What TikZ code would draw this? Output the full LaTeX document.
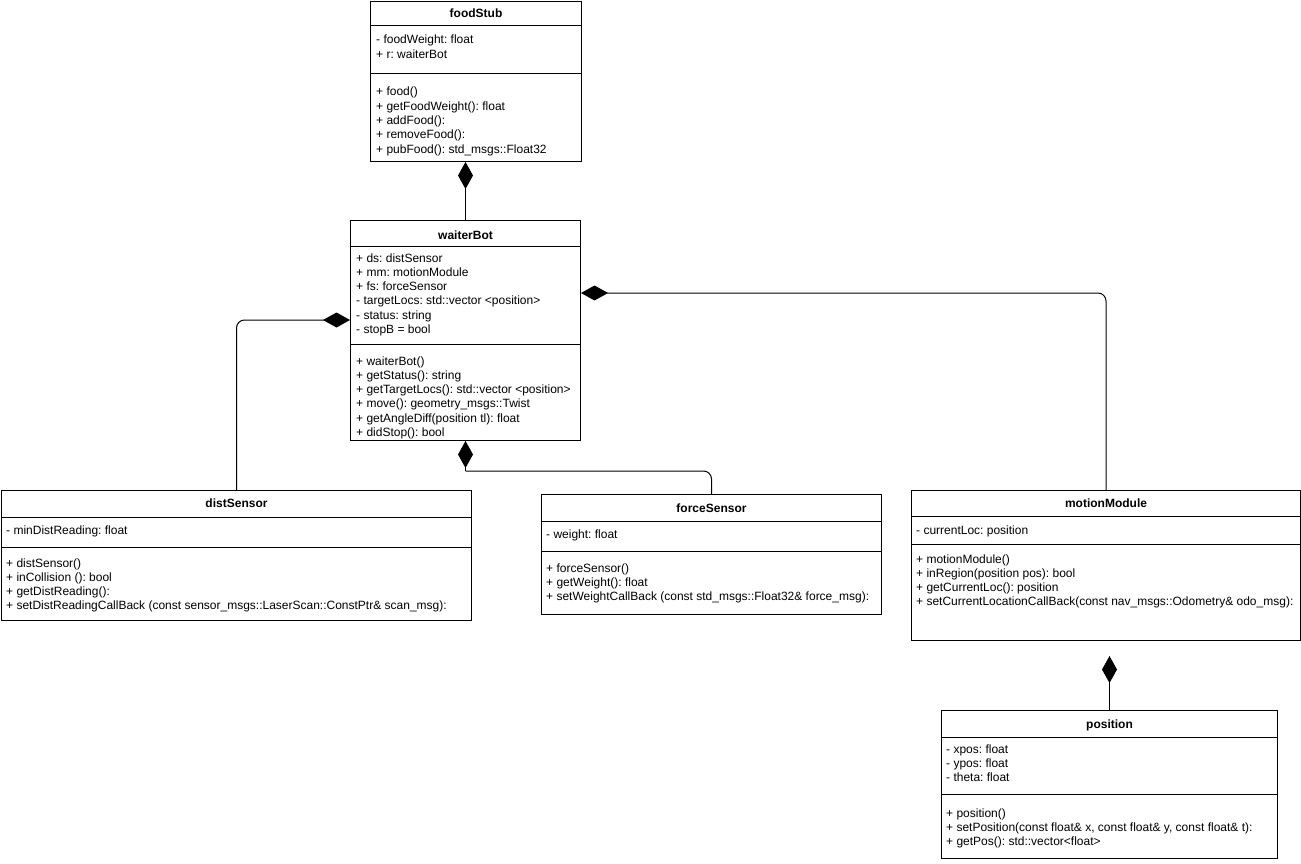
\documentclass[tikz,border=0pt]{standalone}
\usepackage{fontspec}
\setmainfont{Liberation Sans}
\frenchspacing
\usetikzlibrary{arrows.meta,calc}
\tikzset{
  cls/.style={draw, line width=1pt, fill=white, anchor=north west, inner sep=0pt},
  rule/.style={line width=1pt},
  row/.style={anchor=base west, inner sep=0pt, font=\fontsize{12}{14}\selectfont},
  title/.style={anchor=base, inner sep=0pt, font=\fontsize{12}{14}\selectfont\bfseries},
  conn/.style={line width=1pt, rounded corners=8pt},
  comp/.style={conn, -{Diamond[length=27pt,width=15pt]}},
}
% one text line per member, 14.3 units apart
\newcommand\umlrows[4]{%
  \foreach \t [count=\i] in {#4}
    \node[row] (#1\i) at (#2, {#3+14.3*(\i-1)}) {\t};}
% horizontal compartment rule across a class box
\newcommand\umlrule[2]{\draw[rule] (#1.west |- 0,#2) -- (#1.east |- 0,#2);}

\begin{document}
\begin{tikzpicture}[x=1pt,y=-1pt]
\useasboundingbox (0,0) rectangle (1301,864);
\fill[white] (0,0) rectangle (1301,864);

% ---- foodStub
\node[cls, minimum width=211pt, minimum height=160pt] (food) at (370,1) {};
\umlrule{food}{26}\umlrule{food}{74}
\node[title] (food-t) at (food.north |- 0,18) {foodStub};
\umlrows{food-a}{376}{44}{{- foodWeight: float},{+ r: waiterBot}}
\umlrows{food-m}{376}{96}{{+ food()},{+ getFoodWeight(): float},{+ addFood():},{+ removeFood():},{+ pubFood(): std\_msgs::Float32}}

% ---- waiterBot
\node[cls, minimum width=230pt, minimum height=220pt] (wb) at (350,220) {};
\umlrule{wb}{246}\umlrule{wb}{344}
\node[title] (wb-t) at (wb.north |- 0,239) {waiterBot};
\umlrows{wb-a}{356}{262}{{+ ds: distSensor},{+ mm: motionModule},{+ fs: forceSensor},{- targetLocs: std::vector <position>},{- status: string},{- stopB = bool}}
\umlrows{wb-m}{356}{365}{{+ waiterBot()},{+ getStatus(): string},{+ getTargetLocs(): std::vector <position>},{+ move(): geometry\_msgs::Twist},{+ getAngleDiff(position tl): float},{+ didStop(): bool}}

% ---- distSensor
\node[cls, minimum width=470pt, minimum height=130pt] (ds) at (1,490) {};
\umlrule{ds}{517}\umlrule{ds}{547}
\node[title] (ds-t) at (ds.north |- 0,507) {distSensor};
\umlrows{ds-a}{6}{534}{{- minDistReading: float}}
\umlrows{ds-m}{6}{567}{{+ distSensor()},{+ inCollision (): bool},{+ getDistReading():},{+ setDistReadingCallBack (const sensor\_msgs::LaserScan::ConstPtr\& scan\_msg):}}

% ---- forceSensor
\node[cls, minimum width=340pt, minimum height=120pt] (fs) at (541,494) {};
\umlrule{fs}{521}\umlrule{fs}{551}
\node[title] (fs-t) at (fs.north |- 0,512) {forceSensor};
\umlrows{fs-a}{546}{538}{{- weight: float}}
\umlrows{fs-m}{546}{572}{{+ forceSensor()},{+ getWeight(): float},{+ setWeightCallBack (const std\_msgs::Float32\& force\_msg):}}

% ---- motionModule
\node[cls, minimum width=389pt, minimum height=150pt] (mm) at (911,490) {};
\umlrule{mm}{516}\umlrule{mm}{544}
\node[title] (mm-t) at (mm.north |- 0,507) {motionModule};
\umlrows{mm-a}{916}{534}{{- currentLoc: position}}
\umlrows{mm-m}{916}{563}{{+ motionModule()},{+ inRegion(position pos): bool},{+ getCurrentLoc(): position},{+ setCurrentLocationCallBack(const nav\_msgs::Odometry\& odo\_msg):}}

% ---- position
\node[cls, minimum width=336pt, minimum height=148pt] (pos) at (941,710) {};
\umlrule{pos}{737}\umlrule{pos}{794}
\node[title] (pos-t) at (pos.north |- 0,728) {position};
\umlrows{pos-a}{946}{753}{{- xpos: float},{- ypos: float},{- theta: float}}
\umlrows{pos-m}{946}{817}{{+ position()},{+ setPosition(const float\& x, const float\& y, const float\& t):},{+ getPos(): std::vector<float>}}

% ---- composition connectors
\draw[comp] (wb.north) -- (wb.north |- food.south);
\draw[comp] (ds.north) |- (wb.west |- 0,320);
\draw[comp] (mm.north) |- (wb.east |- 0,293);
\coordinate (fsj) at ($(wb.south)+(0,30)$);
\draw[comp] (fsj) -- (wb.south);
\draw[conn] (fsj) -| (fs.north);
\coordinate (posj) at ($(pos.north |- mm.south)+(0,15)$);
\draw[comp] (pos.north) -- (posj);
\end{tikzpicture}
\end{document}
